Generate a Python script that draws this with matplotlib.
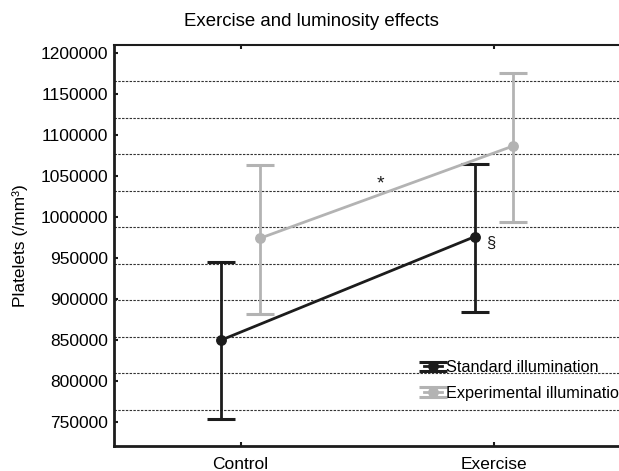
import matplotlib
matplotlib.use("Agg")
import matplotlib.pyplot as plt
from matplotlib.legend_handler import HandlerErrorbar
from matplotlib.container import ErrorbarContainer
import numpy as np

plt.rcParams['font.family'] = ['Liberation Sans', 'DejaVu Sans']

categories = ["Control", "Exercise"]
series_names = ["Standard illumination", "Experimental illumination"]
std_mean = [849800, 976000]
std_low = [752900, 883600]
std_high = [944700, 1065100]
exp_mean = [974000, 1086800]
exp_low = [881200, 994300]
exp_high = [1063200, 1176300]
yticks = [750000, 800000, 850000, 900000, 950000, 1000000, 1050000, 1100000, 1150000, 1200000]
title = "Exercise and luminosity effects"
ylabel = "Platelets (/mm³)"

fig = plt.figure(figsize=(6.19, 4.71), dpi=100)
ax = fig.add_axes([114.0 / 619, 25 / 471, 506.6 / 619, 401.3 / 471])

ylo, yhi = 720300, 1210500
ax.set_xlim(-0.5, 1.5)
ax.set_ylim(ylo, yhi)

for k in range(1, 11):
    ax.axhline(ylo + k * (yhi - ylo) / 11, color="#333333", lw=0.8,
               ls=(0, (2.2, 1.2)), zorder=1)

x = np.arange(len(categories))
off = 0.076
black = "#1c1c1c"
gray = "#b3b3b3"

def draw(xs, m, lo, hi, color, label):
    m = np.array(m); lo = np.array(lo); hi = np.array(hi)
    return ax.errorbar(xs, m, yerr=[m - lo, hi - m], color=color, lw=2.0,
                       marker="o", ms=6.8, capsize=10, capthick=2.2,
                       elinewidth=2.0, label=label, zorder=3)

h2 = draw(x + off, exp_mean, exp_low, exp_high, gray, series_names[1])
h1 = draw(x - off, std_mean, std_low, std_high, black, series_names[0])

ax.text(0.553, 1040000, "*", ha="center", va="center", fontsize=14, color=black)
ax.text(0.985, 968000, "§", ha="center", va="center", fontsize=12, color=black)

ax.set_xticks(x)
ax.set_xticklabels(categories, fontsize=12.5)
ax.set_yticks(yticks)
ax.set_yticklabels([str(v) for v in yticks], fontsize=12.5)
ax.tick_params(axis="both", direction="in", length=3, width=1.5, color=black,
               top=True, pad=8)
ax.tick_params(axis="y", pad=4)
for s in ["left", "bottom", "top"]:
    ax.spines[s].set_linewidth(2.0)
    ax.spines[s].set_color(black)
ax.spines["top"].set_linewidth(1.5)
ax.spines["right"].set_visible(False)

ax.set_ylabel(ylabel, fontsize=12.5, labelpad=9)
fig.text(311 / 619, 1 - 22 / 471, title, ha="center", va="center", fontsize=13.4)

leg = ax.legend(handles=[h1, h2], loc="upper left",
                bbox_to_anchor=(416 / 619, 1 - 352 / 471),
                bbox_transform=fig.transFigure, frameon=False,
                fontsize=11.7, handlelength=1.1, handletextpad=0.22,
                labelspacing=0.65, borderpad=0,
                handler_map={ErrorbarContainer: HandlerErrorbar(yerr_size=0.28)})

fig.savefig("out.png", dpi=100)
